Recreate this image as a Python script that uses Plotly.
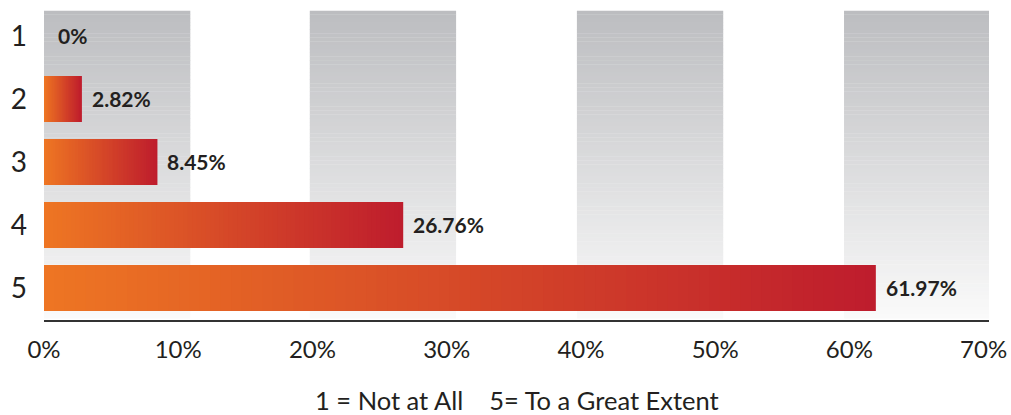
import plotly.graph_objects as go

# ---- data ----
categories = ["1", "2", "3", "4", "5"]
values = [0.0, 2.82, 8.45, 26.76, 61.97]
value_labels = ["0%", "2.82%", "8.45%", "26.76%", "61.97%"]
x_ticks = [0, 10, 20, 30, 40, 50, 60, 70]
x_tick_labels = ["0%", "10%", "20%", "30%", "40%", "50%", "60%", "70%"]
subtitle = "1 = Not at All\u00a0\u00a0\u00a0\u00a05= To a Great Extent"

# ---- style ----
FONT = "Lato"
TEXT = "#231F20"
C_START = (238, 118, 35)   # orange
C_END = (190, 28, 45)      # red
S_TOP = (188, 189, 192)    # stripe top grey
S_BOT = (250, 250, 250)    # stripe bottom
stripe_bounds = [(0, 10.9), (19.8, 30.7), (39.7, 50.6), (59.6, 70.4)]
N_BAR = 80
N_STRIPE = 80
Y_SHIFT = 0.5 / 63  # half-pixel shift so bar edges land on whole pixels


def lerp(a, b, t):
    return "rgb(%d,%d,%d)" % tuple(round(a[i] + (b[i] - a[i]) * t) for i in range(3))


fig = go.Figure()

# gradient bars: overlaid, longest (reddest) first
for k in range(N_BAR):
    frac = (N_BAR - k) / N_BAR
    t = (N_BAR - k - 0.5) / N_BAR
    fig.add_trace(go.Bar(
        y=categories,
        x=[v * frac for v in values],
        orientation="h",
        marker=dict(color=lerp(C_START, C_END, t), line=dict(width=0)),
        hoverinfo="skip",
        showlegend=False,
    ))

# value labels
for i, (v, lab) in enumerate(zip(values, value_labels)):
    fig.add_annotation(
        x=v, y=i, xref="x", yref="y", text=lab, showarrow=False,
        xanchor="left", yanchor="middle", xshift=8 if v > 0 else 12, yshift=1,
        font=dict(family=FONT, size=21, color=TEXT, weight="bold"),
    )

# background stripes with vertical gradient
y_lo, y_hi = 0.005, 0.982
shapes = []
for (x0, x1) in stripe_bounds:
    for j in range(N_STRIPE):
        ya = y_lo + (y_hi - y_lo) * j / N_STRIPE
        yb = y_lo + (y_hi - y_lo) * (j + 1) / N_STRIPE + 0.001
        t = (j + 0.5) / N_STRIPE
        shapes.append(dict(
            type="rect", xref="x", yref="paper", x0=x0, x1=x1, y0=ya, y1=min(yb, y_hi),
            fillcolor=lerp(S_BOT, S_TOP, t), line=dict(width=0), layer="below",
        ))

fig.add_annotation(
    x=0.5, y=-0.255, xref="paper", yref="paper", text=subtitle, showarrow=False,
    xanchor="center", yanchor="middle",
    font=dict(family=FONT, size=25.5, color=TEXT),
)

fig.update_layout(
    width=1011, height=415,
    margin=dict(l=44, r=22, t=5, b=95),
    barmode="overlay",
    bargap=17 / 63,
    plot_bgcolor="white", paper_bgcolor="white",
    shapes=shapes,
    xaxis=dict(
        range=[0, 70.4], tickvals=x_ticks, ticktext=x_tick_labels,
        showgrid=False, zeroline=False,
        showline=True, linecolor="#333333", linewidth=1.5,
        ticks="", ticklabelstandoff=7, ticklabeloverflow="allow",
        tickfont=dict(family=FONT, size=24, color=TEXT),
    ),
    yaxis=dict(
        type="category", range=[4.5 + Y_SHIFT, -0.5 + Y_SHIFT],
        showgrid=False, zeroline=False, showline=False,
        ticks="", ticklabelstandoff=16,
        tickfont=dict(family=FONT, size=28, color=TEXT),
    ),
)

fig.write_html("out.html")
